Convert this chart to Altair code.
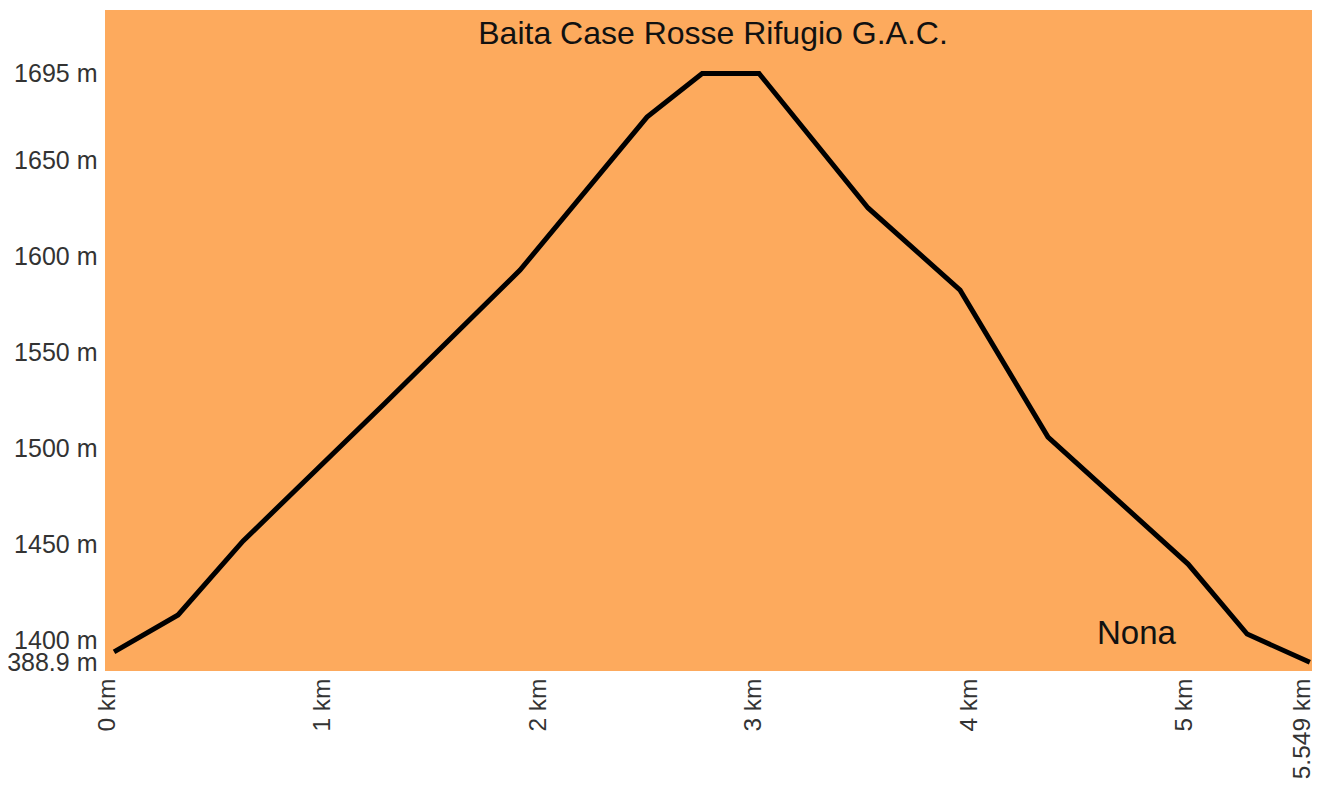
import altair as alt
import pandas as pd

# Elevation profile (distance in km, elevation in m)
dist_km = [0.0, 0.297, 0.599, 1.258, 1.884, 2.473, 2.729, 2.993, 3.499, 3.926, 4.334, 4.984, 5.258, 5.549]
elev_m = [1394.3, 1413.5, 1452.0, 1523.7, 1592.8, 1672.3, 1695.0, 1695.0, 1625.1, 1582.4, 1506.0, 1440.0, 1403.6, 1388.9]

y_ticks = [1388.9, 1400, 1450, 1500, 1550, 1600, 1650, 1695]
x_ticks = [0, 1, 2, 3, 4, 5, 5.549]

start_label = ["Baita Case Rosse Rifugio G.A.C."]
end_label = ["Nona"]

FONT = "Liberation Sans"

df = pd.DataFrame({"d": dist_km, "e": elev_m})

x_enc = alt.X(
    "d:Q",
    scale=alt.Scale(domain=[-0.042, 5.559], nice=False, zero=False),
    axis=alt.Axis(
        values=x_ticks, labelExpr="datum.value + ' km'", labelAngle=-90,
        title=None, grid=False, domain=False, ticks=False, labelPadding=7,
        labelOffset=-7,
        labelFontSize=24.5, labelFont=FONT, labelColor="#333333",
        labelFlush=False, labelOverlap=False,
    ),
)
y_enc = alt.Y(
    "e:Q",
    scale=alt.Scale(domain=[1384.4, 1728.0], nice=False, zero=False),
    axis=alt.Axis(
        values=y_ticks, labelExpr="datum.value + ' m'",
        title=None, grid=False, domain=False, ticks=False, labelPadding=8,
        labelFontSize=25, labelFont=FONT, labelColor="#333333",
        labelFlush=False, labelOverlap=False,
    ),
)

line = alt.Chart(df).mark_line(color="black", strokeWidth=5, strokeJoin="miter").encode(x=x_enc, y=y_enc)

title_txt = alt.Chart(pd.DataFrame({"t": start_label})).mark_text(
    font=FONT, fontSize=32, color="#111111", align="center", baseline="alphabetic"
).encode(text="t:N", x=alt.value(608), y=alt.value(34))

end_txt = alt.Chart(pd.DataFrame({"t": end_label})).mark_text(
    font=FONT, fontSize=33, color="#111111", align="left", baseline="alphabetic"
).encode(text="t:N", x=alt.value(992), y=alt.value(634))

chart = alt.layer(line, title_txt, end_txt).properties(
    width=1207, height=661,
    padding={"left": 97, "top": 2, "right": 0, "bottom": 114},
    autosize=alt.AutoSizeParams(type="none"),
    background="white",
).configure_view(fill="#FDAA5D", strokeWidth=0)

chart.save("out.html", embed_options={"renderer": "svg", "actions": False})
